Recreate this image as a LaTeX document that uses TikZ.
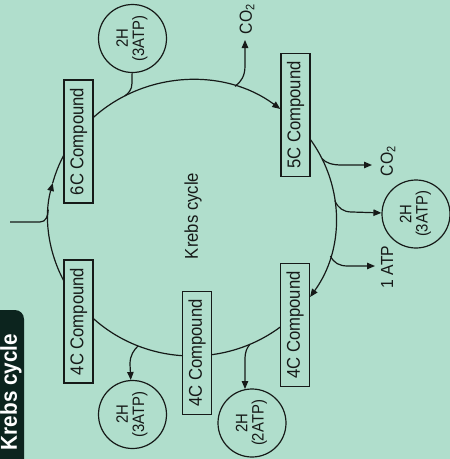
\documentclass[tikz,border=0pt]{standalone}
\usepackage{fontspec}
\setmainfont{Liberation Sans}[FakeStretch=0.9]
\usepackage{graphicx}
\usetikzlibrary{arrows.meta,calc}
\definecolor{bg}{RGB}{176,222,204}
\definecolor{ink}{RGB}{22,26,24}
\definecolor{tabc}{RGB}{12,36,30}
\newcommand{\up}[1]{\rotatebox{90}{#1}}
\newcommand{\twoline}[2]{\rotatebox{90}{\begin{tabular}{@{}c@{}}#1\\#2\end{tabular}}}
\begin{document}
\begin{tikzpicture}[x=1pt,y=-1pt,
  flow/.style={line width=1.2pt, draw=ink},
  tip/.style={-{Triangle[length=8pt,width=6.5pt]}},
  cpd/.style={draw=ink, line width=1.1pt, fill=bg, minimum width=29pt,
    minimum height=123pt, inner sep=0pt, text=ink,
    font=\fontsize{18.5}{18.5}\selectfont},
  prod/.style={draw=ink, line width=1.2pt, circle, minimum size=68pt,
    inner sep=0pt, text=ink, font=\fontsize{16.5}{15}\selectfont},
  lbl/.style={inner sep=0pt, text=ink, font=\fontsize{17.5}{17.5}\selectfont},
]
\useasboundingbox (0,0) rectangle (450,459);
\clip (0,0) rectangle (450,459);
\fill[bg] (0,0) rectangle (450,459);

% side tab
\fill[tabc, rounded corners=9pt] (-14,310) rectangle (24,480);
\node[inner sep=0pt, text=white, font=\fontsize{23}{23}\selectfont\bfseries]
  (tab) at (11,392) {\up{Krebs cycle}};

% ring geometry
\coordinate (c) at (192,218);
\foreach \n/\a in {a0/183.5, a1/226.5, a2/307.8, a3/325.5, a4/394.9,
    a5/52.2, a6/82.3, a7/93.6, a8/133.8, a9/153, a10/194.7, a11/207,
    p1/242.3, p2/287.4, p3/334.5, p4/352.7, p5/16, p6/66.3, p7/112}
  \path ($(c)+(\a:144 and 138)$) coordinate (\n);

% compounds
\node[cpd] (c6)  at (78.5,141.5) {\up{6C Compound}};
\node[cpd] (c5)  at (295.5,115)  {\up{5C Compound}};
\node[cpd] (c4a) at (295,325)    {\up{4C Compound}};
\node[cpd] (c4b) at (197,353)    {\up{4C Compound}};
\node[cpd] (c4c) at (78.5,321.5) {\up{4C Compound}};

\node[lbl, font=\fontsize{18.5}{18.5}\selectfont] (title) at (193,216) {\up{Krebs cycle}};

% products
\node[prod] (hT) at (132.5,38.5) {\twoline{2H}{(3ATP)}};
\node[prod] (hR) at (416,214)    {\twoline{2H}{(3ATP)}};
\node[prod] (hB) at (252,423)    {\twoline{2H}{(2ATP)}};
\node[prod] (hL) at (132.5,414.5){\twoline{2H}{(3ATP)}};

\node[lbl] (co2a) at (247,19)  {\up{CO\textsubscript{2}}};
\node[lbl] (co2b) at (388,161) {\up{CO\textsubscript{2}}};
\node[lbl] (atp)  at (387,267) {\up{1 ATP}};

% arrow tips next to the plain labels
\coordinate (t2) at (245,40);
\coordinate (t3) at (372,165);
\coordinate (t5) at (375,266);
\coordinate (t6) at (245,389);
\coordinate (src) at (10,222);

% the cycle
\draw[flow,tip] (a1) arc[start angle=226.5, end angle=307.8, x radius=144, y radius=138];
\draw[flow,tip] (a3) arc[start angle=325.5, end angle=394.9, x radius=144, y radius=138];
\draw[flow] (a5) arc[start angle=52.2, end angle=82.3, x radius=144, y radius=138];
\draw[flow] (a7) arc[start angle=93.6, end angle=133.8, x radius=144, y radius=138];
\draw[flow,tip] (a9) arc[start angle=153, end angle=194.7, x radius=144, y radius=138];
\draw[flow] (a10) arc[start angle=194.7, end angle=207, x radius=144, y radius=138];

% entry
\draw[flow] (src) -- (40,222) .. controls (46,222) and (48,216) .. (a0);

% side branches
\draw[flow] (p1) .. controls (128.5,93) and (132,90) .. (132,83) -- (hT);
\draw[flow,tip] (p2) .. controls (241,82) and (245,76) .. (245,66) -- (t2);
\draw[flow,tip] (p3) .. controls (326,163) and (332,165) .. (342,165) -- (t3);
\draw[flow,tip] (p4) .. controls (338,208) and (343,212) .. (352,212) -- (hR);
\draw[flow,tip] (p5) .. controls (334,263) and (339,266) .. (348,266) -- (t5);
\draw[flow,tip] (p6) .. controls (247,348) and (245,351) .. (245,360) -- (t6);
\draw[flow,tip] (p7) .. controls (134,350) and (130,355) .. (130,364) -- (hL);
\end{tikzpicture}
\end{document}
